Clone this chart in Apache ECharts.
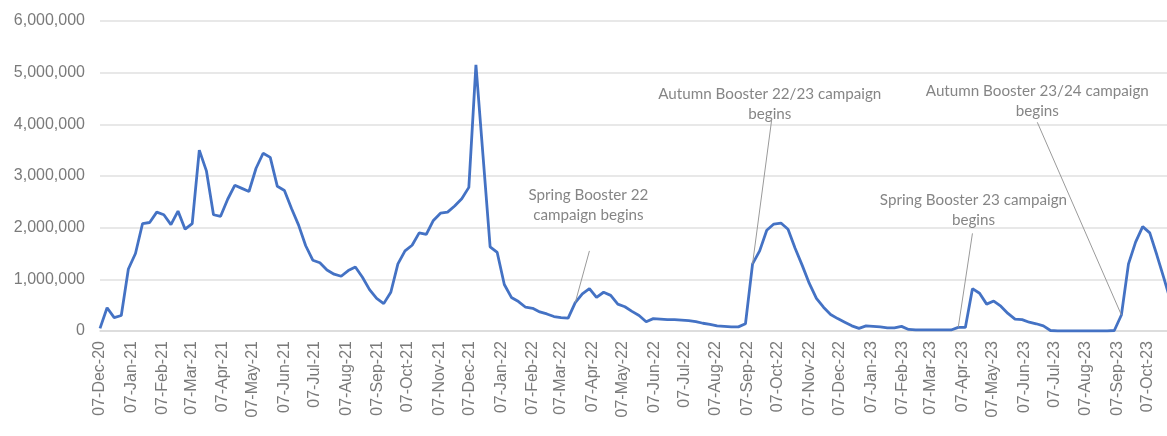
<!DOCTYPE html>
<html>
<head>
<meta charset="utf-8">
<script src="https://cdn.jsdelivr.net/npm/echarts@6/dist/echarts.min.js"></script>
<style>
  html, body { margin: 0; padding: 0; background: #fff; }
  #chart { width: 1167px; height: 436px; }
</style>
</head>
<body>
<div id="chart"></div>
<script>
// weekly doses, first week starts 07-Dec-20
const firstWeek = "07-Dec-20";
const weeklyDoses = [
  50000, 450000, 260000, 300000, 1200000, 1500000, 2080000, 2100000, 2300000, 2250000,
  2060000, 2320000, 1970000, 2080000, 3500000, 3100000, 2250000, 2220000, 2550000, 2820000,
  2760000, 2700000, 3150000, 3440000, 3360000, 2800000, 2720000, 2370000, 2050000, 1650000,
  1370000, 1320000, 1180000, 1100000, 1060000, 1170000, 1240000, 1040000, 800000, 630000,
  530000, 750000, 1300000, 1550000, 1660000, 1900000, 1870000, 2140000, 2280000, 2300000,
  2420000, 2560000, 2780000, 5150000, 3390000, 1630000, 1520000, 900000, 650000, 570000,
  460000, 440000, 370000, 330000, 280000, 260000, 250000, 550000, 720000, 820000,
  650000, 750000, 690000, 520000, 470000, 380000, 300000, 180000, 240000, 230000,
  220000, 220000, 210000, 200000, 180000, 150000, 130000, 100000, 90000, 80000,
  80000, 140000, 1300000, 1550000, 1950000, 2070000, 2090000, 1970000, 1600000, 1270000,
  920000, 630000, 460000, 320000, 240000, 170000, 100000, 50000, 100000, 90000,
  80000, 60000, 60000, 90000, 30000, 20000, 20000, 20000, 20000, 20000,
  20000, 70000, 70000, 820000, 730000, 520000, 580000, 480000, 340000, 230000,
  220000, 170000, 140000, 100000, 10000, 0, 0, 0, 0, 0,
  0, 0, 0, 10000, 310000, 1300000, 1720000, 2020000, 1900000, 1470000,
  1020000, 550000
];

const tickLabels = [
  "07-Dec-20", "07-Jan-21", "07-Feb-21", "07-Mar-21", "07-Apr-21", "07-May-21", "07-Jun-21",
  "07-Jul-21", "07-Aug-21", "07-Sep-21", "07-Oct-21", "07-Nov-21", "07-Dec-21", "07-Jan-22",
  "07-Feb-22", "07-Mar-22", "07-Apr-22", "07-May-22", "07-Jun-22", "07-Jul-22", "07-Aug-22",
  "07-Sep-22", "07-Oct-22", "07-Nov-22", "07-Dec-22", "07-Jan-23", "07-Feb-23", "07-Mar-23",
  "07-Apr-23", "07-May-23", "07-Jun-23", "07-Jul-23", "07-Aug-23", "07-Sep-23", "07-Oct-23"
];

const yTicks = [0, 1000000, 2000000, 3000000, 4000000, 5000000, 6000000];

const noteTexts = [
  "Autumn Booster 22/23 campaign\nbegins",
  "Spring Booster 22\ncampaign begins",
  "Spring Booster 23 campaign\nbegins",
  "Autumn Booster 23/24 campaign\nbegins"
];
const noteWeeks = [92, 67, 121, 144];

// where the notes sit, in axis units (days from first week, doses)
const notePlace = [
  { text: [661, 4400000], from: [663, 4110000] },
  { text: [482, 2440000], from: [483, 1550000] },
  { text: [862, 2340000], from: [861, 1890000] },
  { text: [925, 4440000], from: [925, 4040000] }
];

const MONTHS = ["Jan","Feb","Mar","Apr","May","Jun","Jul","Aug","Sep","Oct","Nov","Dec"];
function toUtc(label) {
  const p = label.split("-");
  return Date.UTC(2000 + Number(p[2]), MONTHS.indexOf(p[1]), Number(p[0]));
}
const t0 = toUtc(firstWeek);
const dayOf = (label) => Math.round((toUtc(label) - t0) / 86400000);

const tickDays = tickLabels.map(dayOf);
const labelByDay = {};
tickDays.forEach((d, i) => { labelByDay[d] = tickLabels[i]; });

const points = weeklyDoses.map((v, i) => [i * 7, v]);

const myChart = echarts.init(document.getElementById("chart"));
const textColor = "#7a7a7a";

const option = {
  animation: false,
  grid: { left: 100, right: 0, top: 21, bottom: 105, containLabel: false },
  xAxis: {
    type: "value",
    min: 0,
    max: 1053,
    axisLine: { show: true, lineStyle: { color: "#d9d9d9", width: 1.5 } },
    axisTick: { show: false },
    splitLine: { show: false },
    axisLabel: {
      customValues: tickDays,
      rotate: 90,
      margin: 10,
      color: textColor,
      fontFamily: "Liberation Sans",
      fontSize: 16,
      formatter: (v) => labelByDay[Math.round(v)] || ""
    }
  },
  yAxis: {
    type: "value",
    min: yTicks[0],
    max: yTicks[yTicks.length - 1],
    interval: yTicks[1] - yTicks[0],
    axisLine: { show: false },
    axisTick: { show: false },
    splitLine: { lineStyle: { color: "#e0e0e0", width: 1.5 } },
    axisLabel: {
      margin: 15,
      color: textColor,
      fontFamily: "Liberation Sans",
      fontSize: 16,
      formatter: (v) => v.toLocaleString("en-US")
    }
  },
  series: [
    {
      name: "Doses",
      type: "line",
      data: points,
      showSymbol: false,
      lineStyle: { color: "#4472c4", width: 2.8 },
      itemStyle: { color: "#4472c4" },
      markLine: {
        silent: true,
        symbol: ["none", "none"],
        label: { show: false },
        lineStyle: { color: "#9a9a9a", width: 1, type: "solid" },
        data: notePlace.map((n, i) => [
          { coord: n.from },
          { coord: points[noteWeeks[i]] }
        ])
      },
      z: 3
    },
    {
      name: "notes",
      type: "scatter",
      symbolSize: 0,
      silent: true,
      data: notePlace.map((n, i) => ({ value: n.text, note: noteTexts[i] })),
      label: {
        show: true,
        position: "inside",
        align: "center",
        verticalAlign: "middle",
        color: "#666666",
        fontFamily: "Lato",
        fontSize: 15.2,
        lineHeight: 20,
        formatter: (p) => p.data.note
      },
      z: 4
    }
  ]
};
myChart.setOption(option);
</script>
</body>
</html>
